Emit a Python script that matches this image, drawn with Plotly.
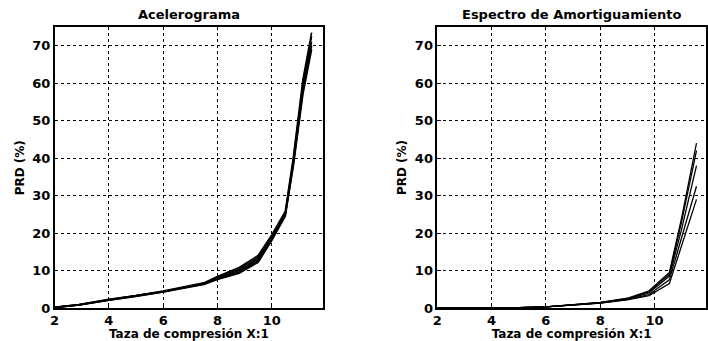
import plotly.graph_objects as go

# ---- data ----
left_x = [2.0, 2.9, 4.0, 5.0, 6.0, 7.5, 8.0, 8.8, 9.5, 10.0, 10.5, 10.8, 11.15, 11.47]
left_series = [
    [0.2, 0.9, 2.3, 3.3, 4.5, 6.7, 8.4, 10.8, 14.0, 19.5, 25.8, 40.5, 61.0, 73.5],
    [0.2, 0.9, 2.2, 3.3, 4.4, 6.6, 8.2, 10.4, 13.5, 19.0, 25.4, 39.5, 60.0, 72.5],
    [0.2, 0.8, 2.2, 3.2, 4.4, 6.5, 8.0, 10.0, 13.0, 18.5, 25.0, 39.0, 59.0, 71.0],
    [0.1, 0.8, 2.1, 3.2, 4.3, 6.4, 7.8, 9.6, 12.6, 18.2, 24.8, 38.5, 58.0, 70.0],
    [0.1, 0.8, 2.1, 3.1, 4.3, 6.3, 7.6, 9.3, 12.2, 18.0, 24.5, 38.0, 57.0, 69.0],
]
right_x = [2.0, 3.0, 4.0, 5.0, 6.0, 7.0, 8.0, 9.0, 9.8, 10.55, 11.0, 11.55]
right_series = [
    [0.0, 0.0, 0.0, 0.1, 0.3, 0.8, 1.5, 2.6, 4.6, 9.5, 24.0, 44.0],
    [0.0, 0.0, 0.0, 0.1, 0.3, 0.8, 1.4, 2.5, 4.3, 9.0, 23.0, 42.0],
    [0.0, 0.0, 0.0, 0.1, 0.3, 0.8, 1.4, 2.4, 4.0, 8.5, 21.0, 38.0],
    [0.0, 0.0, 0.0, 0.1, 0.3, 0.7, 1.3, 2.3, 3.6, 7.5, 18.5, 32.5],
    [0.0, 0.0, 0.0, 0.1, 0.3, 0.7, 1.3, 2.2, 3.3, 6.5, 16.5, 29.0],
]
titles = ["Acelerograma", "Espectro de Amortiguamiento"]
x_label = "Taza de compresión X:1"
y_label = "PRD (%)"
x_ticks = [2, 4, 6, 8, 10]
y_ticks = [0, 10, 20, 30, 40, 50, 60, 70]

FONT = "DejaVu Sans, sans-serif"

fig = go.Figure()
for ys in left_series:
    fig.add_trace(go.Scatter(x=left_x, y=ys, mode="lines", xaxis="x", yaxis="y",
                             line=dict(color="black", width=1.6), showlegend=False))
for ys in right_series:
    fig.add_trace(go.Scatter(x=right_x, y=ys, mode="lines", xaxis="x2", yaxis="y2",
                             line=dict(color="black", width=1.3), showlegend=False))

axis_common = dict(
    showline=True, linecolor="black", linewidth=1.5, mirror=True,
    ticks="inside", ticklen=4, tickcolor="black",
    showgrid=True, gridcolor="black", griddash="dot", gridwidth=1,
    zeroline=False,
    tickfont=dict(family=FONT, size=13, color="#000000", weight="bold"),
)
xcommon = dict(axis_common, range=[2, 11.9], tickvals=x_ticks,
               title=dict(text=x_label, standoff=1,
                          font=dict(family=FONT, size=12, color="#000000", weight="bold")))
ycommon = dict(axis_common, range=[0, 75], tickvals=y_ticks)

annotations = []
for i, (x0, x1) in enumerate([(50, 321), (436, 707)]):
    annotations.append(dict(text=titles[i], x=(x0 + x1) / 2 / 708, y=1, xref="paper", yref="paper",
                            xanchor="center", yanchor="bottom", yshift=3, showarrow=False,
                            font=dict(family=FONT, size=13, color="#000000", weight="bold")))
for xc in [15, 400]:
    annotations.append(dict(text=y_label, x=xc / 708, y=0.5, xref="paper", yref="paper",
                            xanchor="center", yanchor="middle", textangle=-90, showarrow=False,
                            font=dict(family=FONT, size=12, color="#000000", weight=600)))

fig.update_layout(
    width=708, height=341,
    margin=dict(l=0, r=0, t=27, b=33),
    paper_bgcolor="white", plot_bgcolor="white",
    xaxis=dict(xcommon, domain=[50/708, 321/708], anchor="y"),
    yaxis=dict(ycommon, domain=[0, 1], anchor="x"),
    xaxis2=dict(xcommon, domain=[436/708, 707/708], anchor="y2"),
    yaxis2=dict(ycommon, domain=[0, 1], anchor="x2"),
    annotations=annotations,
)

fig.write_html("out.html")
